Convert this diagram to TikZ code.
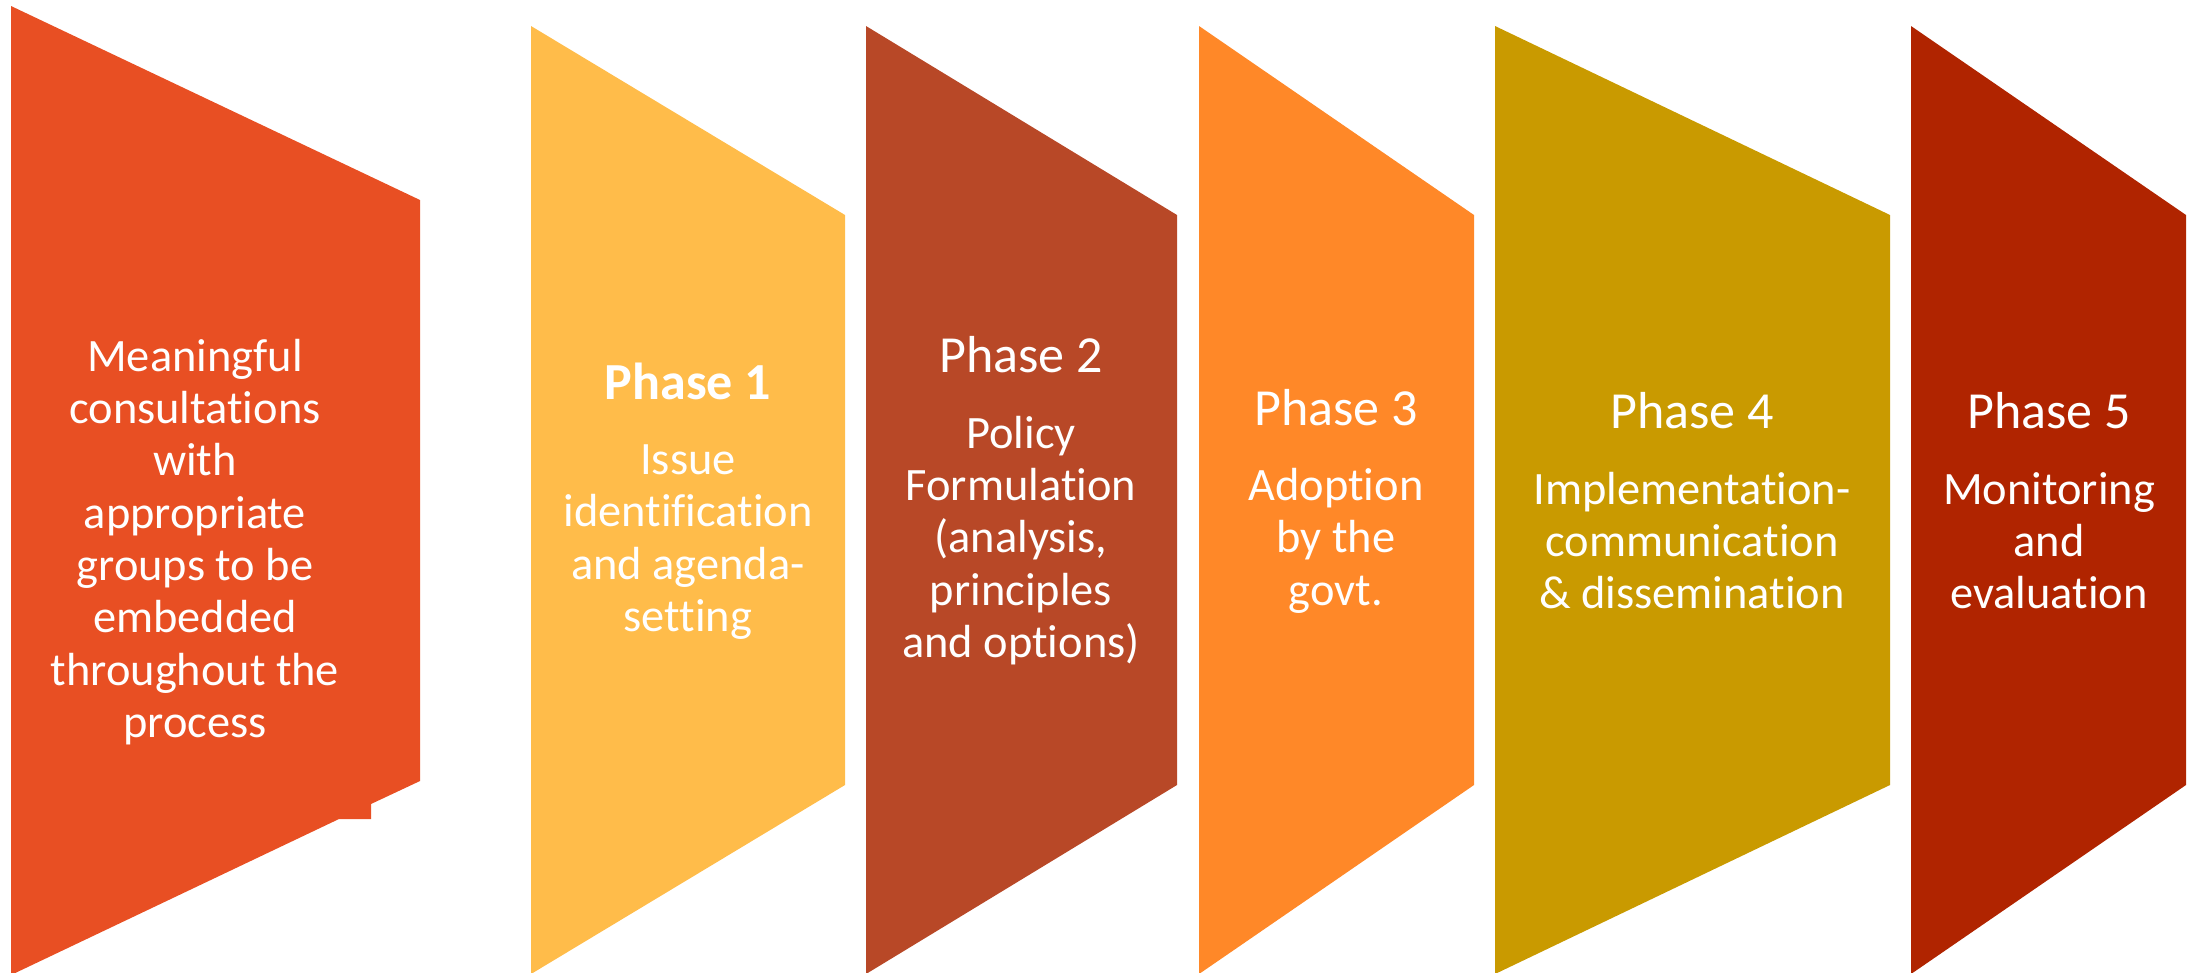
\documentclass[tikz,border=0pt]{standalone}
\usepackage{fontspec}
\setmainfont{Carlito}[Ligatures=NoCommon]
\usetikzlibrary{positioning}
\definecolor{consultred}{RGB}{232,79,35}
\definecolor{phaseyellow}{RGB}{255,188,74}
\definecolor{phasebrown}{RGB}{184,72,39}
\definecolor{phaseorange}{RGB}{255,136,40}
\definecolor{phasegold}{RGB}{201,154,0}
\definecolor{phasered}{RGB}{176,36,0}
\newcommand{\phasehead}[1]{{\fontsize{14.8}{14.9}\selectfont #1}\\[6.5pt]}

\begin{document}
\begin{tikzpicture}[
    x=0.01cm,y=-0.01cm,
    bandtext/.style={text=white,align=center,inner sep=0pt,
      font=\fontsize{13.2}{14.9}\selectfont}
  ]
    \clip (0,0) rectangle (2187,972);
    % chevron bands
    \fill[consultred] (11,6) -- (420,200) -- (420,781) -- (371,804) -- (371,819)
      -- (339,819) -- (11,975) -- cycle;
    \fill[phaseyellow] (531,26) -- (845,215) -- (845,785) -- (531,974) -- cycle;
    \fill[phasebrown] (866,26) -- (1177,215) -- (1177,785) -- (866,974) -- cycle;
    \fill[phaseorange] (1199,26) -- (1474,215) -- (1474,785) -- (1199,974) -- cycle;
    \fill[phasegold] (1495,26) -- (1890,215) -- (1890,785) -- (1495,974) -- cycle;
    \fill[phasered] (1911,26) -- (2186,215) -- (2186,785) -- (1911,974) -- cycle;
    % labels
    \node[bandtext] (consult) at (195,542) {Meaningful\\consultations\\with\\appropriate\\groups to be\\embedded\\throughout the\\process};
    \node[bandtext] (phase1) at (688,501) {\phasehead{\bfseries Phase 1}Issue\\identification\\and agenda-\\setting};
    \node[bandtext] (phase2) at (1021,501) {\phasehead{Phase 2}Policy\\Formulation\\(analysis,\\principles\\and options)};
    \node[bandtext] (phase3) at (1336,501) {\phasehead{Phase 3}Adoption\\by the\\govt.};
    \node[bandtext] (phase4) at (1692,501) {\phasehead{Phase 4}Implementation-\\communication\\\& dissemination};
    \node[bandtext] (phase5) at (2049,501) {\phasehead{Phase 5}Monitoring\\and\\evaluation};
  \end{tikzpicture}
\end{document}
